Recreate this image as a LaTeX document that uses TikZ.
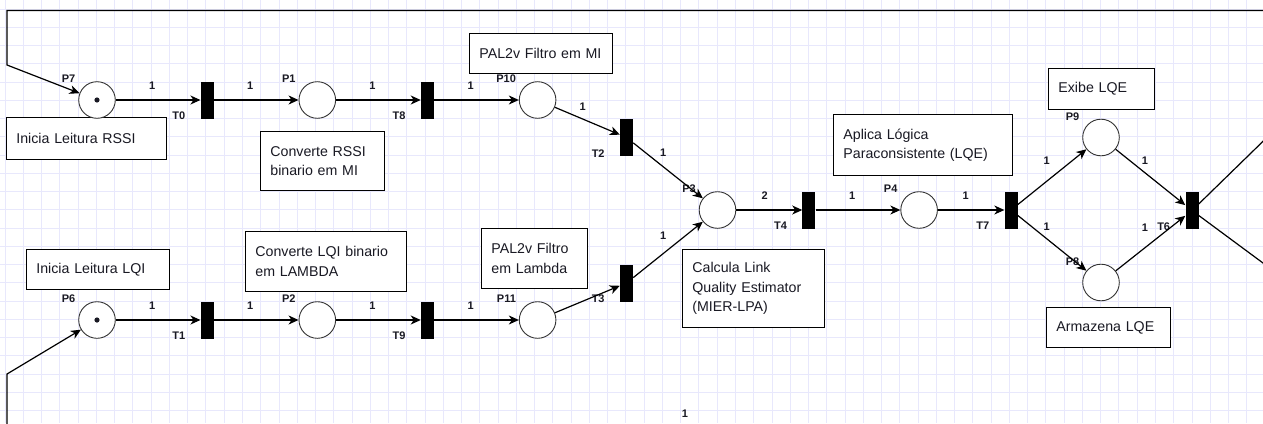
\documentclass[tikz,border=0pt]{standalone}
\usepackage{fontspec}
\setmainfont{Liberation Sans}
\usetikzlibrary{arrows.meta,positioning}

\definecolor{gridc}{RGB}{232,232,252}
\definecolor{ink}{RGB}{25,25,35}

\begin{document}
\begin{tikzpicture}[x=1pt,y=-1pt,>={Stealth[length=10pt,width=9pt,inset=3pt]},
  node distance=84.7pt,
  place/.style={circle,draw=black!80,line width=0.9pt,fill=white,minimum size=36.6pt,inner sep=0pt},
  trans/.style={rectangle,fill=black,minimum width=13pt,minimum height=37pt,inner sep=0pt},
  desc/.style={draw,line width=0.8pt,fill=white,anchor=north west,align=left,inner xsep=10pt,inner ysep=0pt,
    text=ink,font=\fontsize{14.2}{19.3}\selectfont},
  plab/.style={inner sep=0pt,text=ink,font=\fontsize{11}{11}\selectfont\bfseries},
  arc/.style={->,line width=1.2pt}]
  \useasboundingbox (0,0) rectangle (1263,423);
  \clip (0,0) rectangle (1263,423);
  \fill[white] (0,0) rectangle (1263,423);
  % grid
  \foreach \gx in {0,...,69} \draw[gridc,line width=0.8pt] ({5+\gx*18.26},0) -- ++(0,423);
  \foreach \gy in {0,...,22} \draw[gridc,line width=0.8pt] (0,{8.9+\gy*18.26}) -- ++(1263,0);

  % comment boxes
  \node[desc,text width=140pt,minimum height=42pt] (bxrssi) at (6,117) {Inicia Leitura RSSI};
  \node[desc,text width=104pt,minimum height=59pt] (bxconvm) at (260,131) {Converte RSSI\\binario em MI};
  \node[desc,text width=123pt,minimum height=40pt] (bxfiltm) at (469,33) {PAL2v Filtro em MI};
  \node[desc,text width=123pt,minimum height=40pt] (bxlqi) at (26,249) {Inicia Leitura LQI};
  \node[desc,text width=141pt,minimum height=60pt] (bxconvl) at (245,231) {Converte LQI binario\\em LAMBDA};
  \node[desc,text width=86pt,minimum height=60pt] (bxfiltl) at (481,228) {PAL2v Filtro\\em Lambda};
  \node[desc,text width=122pt,minimum height=78pt] (bxmier) at (682,249) {Calcula Link\\Quality Estimator\\(MIER-LPA)};
  \node[desc,text width=159pt,minimum height=61pt] (bxpara) at (833,114) {Aplica Lógica\\Paraconsistente (LQE)};
  \node[desc,text width=86pt,minimum height=41pt] (bxexibe) at (1048,68) {Exibe LQE};
  \node[desc,text width=104pt,minimum height=40pt] (bxarmaz) at (1046,307) {Armazena LQE};

  % RSSI row
  \node[place] (p7) at (97,100) {};
  \node[trans,right=of p7] (t0) {};
  \node[place,right=of t0] (p1) {};
  \node[trans,right=of p1] (t8) {};
  \node[place,right=of t8] (p10) {};
  % LQI row
  \node[place] (p6) at (97,320) {};
  \node[trans,right=of p6] (t1) {};
  \node[place,right=of t1] (p2) {};
  \node[trans,right=of p2] (t9) {};
  \node[place,right=of t9] (p11) {};
  % merge and output
  \node[trans] (t2) at (626.5,137.5) {};
  \node[trans] (t3) at (626.5,283) {};
  \node[place] (p3) at (717.5,210) {};
  \node[trans,right=66pt of p3] (t4) {};
  \node[place,right=of t4] (p4) {};
  \node[trans,right=66.5pt of p4] (t7) {};
  \node[place] (p9) at (1101,137.5) {};
  \node[place] (p8) at (1101,282.5) {};
  \node[trans] (t6) at (1192,210.5) {};

  % tokens
  \fill[ink] (p7.center) circle[radius=2.6pt];
  \fill[ink] (p6.center) circle[radius=2.6pt];

  % place labels
  \foreach \p/\txt in {p7/P7,p1/P1,p10/P10,p6/P6,p2/P2,p11/P11,p3/P3,p4/P4,p9/P9,p8/P8}
    \node[plab,above left=17pt and 21.5pt of \p.center] (\p l) {\txt};
  % transition labels
  \foreach \t/\txt in {t0/T0,t8/T8,t2/T2,t1/T1,t9/T9,t3/T3,t4/T4,t7/T7,t6/T6}
    \node[plab,left=15pt of \t.south west,yshift=2.5pt] (\t l) {\txt};

  % arcs
  \draw[arc] (p7) -- node[plab,pos=.43,above=10pt]{1} (t0);
  \draw[arc] (t0) -- node[plab,pos=.43,above=10pt]{1} (p1);
  \draw[arc] (p1) -- node[plab,pos=.43,above=10pt]{1} (t8);
  \draw[arc] (t8) -- node[plab,pos=.43,above=10pt]{1} (p10);
  \draw[arc] (p6) -- node[plab,pos=.43,above=10pt]{1} (t1);
  \draw[arc] (t1) -- node[plab,pos=.43,above=10pt]{1} (p2);
  \draw[arc] (p2) -- node[plab,pos=.43,above=10pt]{1} (t9);
  \draw[arc] (t9) -- node[plab,pos=.43,above=10pt]{1} (p11);
  \draw[arc] (p10) -- node[plab,pos=.43,above=8pt]{1} (t2);
  \draw[arc] (p11) -- (t3);
  \draw[arc] (t2) -- node[plab,pos=.43,above=10pt]{1} (p3);
  \draw[arc] (t3) -- node[plab,pos=.43,above=13pt]{1} (p3);
  \draw[arc] (p3) -- node[plab,pos=.43,above=10pt]{2} (t4);
  \draw[arc] (t4) -- node[plab,pos=.43,above=10pt]{1} (p4);
  \draw[arc] (p4) -- node[plab,pos=.42,above=10pt]{1} (t7);
  \draw[arc] (t7) -- node[plab,pos=.42,above=16pt]{1} (p9);
  \draw[arc] (p9) -- node[plab,pos=.42,above=8pt]{1} (t6);
  \draw[arc] (t7) -- node[plab,pos=.42,above=7.5pt]{1} (p8);
  \draw[arc] (p8) -- node[plab,pos=.42,above=16pt]{1} (t6);

  % loops back to the start places
  \coordinate (loopa) at (1290,115);
  \coordinate (loopb) at (7,10.5);
  \coordinate (loopc) at (7,65);
  \coordinate (loopd) at (1290,283);
  \coordinate (loope) at (7,450);
  \coordinate (loopf) at (7,374);
  \draw[arc] (t6) -- (loopa) |- (loopb) -- (loopc) -- (p7);
  \draw[arc] (t6) -- (loopd) |- (loope) -- (loopf) -- (p6);

  \node[plab] (wstray) at (685,414) {1};
\end{tikzpicture}
\end{document}
